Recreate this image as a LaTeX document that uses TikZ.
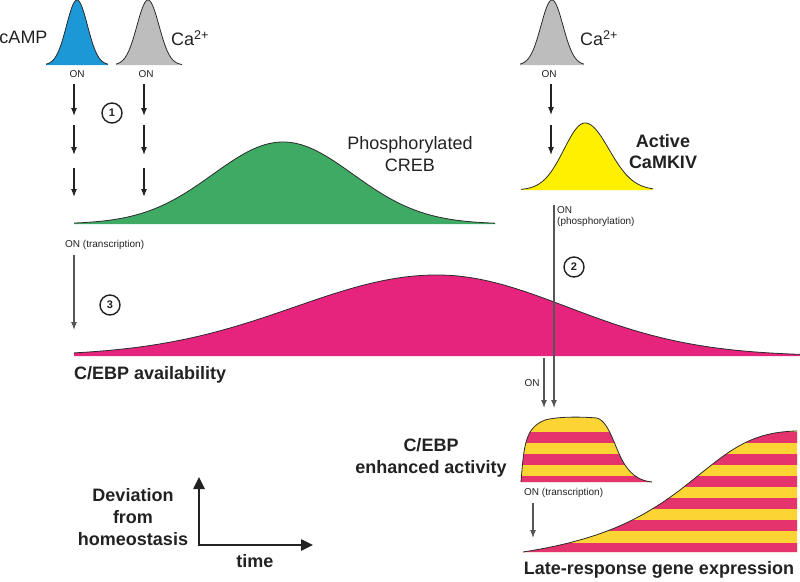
\documentclass[tikz,border=0pt]{standalone}
\usepackage{fontspec}
\setmainfont{Liberation Sans}
\usetikzlibrary{arrows.meta}
\definecolor{cblue}{HTML}{1B98D5}
\definecolor{cgray}{HTML}{BDBDBD}
\definecolor{cgreen}{HTML}{3FAA63}
\definecolor{cmag}{HTML}{E6247E}
\definecolor{cyel}{HTML}{FFF000}
\definecolor{syel}{HTML}{FCD535}
\definecolor{smag}{HTML}{E5336E}
\definecolor{outl}{HTML}{2B2B2B}
\definecolor{txt}{HTML}{222222}
\definecolor{lgray}{HTML}{555555}
\begin{document}
\begin{tikzpicture}[x=1pt,y=-1pt,
  curve/.style={draw=outl, line width=0.8pt},
  big/.style={text=txt, inner sep=0pt, font=\fontsize{18}{22}\selectfont},
  bigb/.style={text=txt, inner sep=0pt, font=\fontsize{18}{22}\selectfont\bfseries},
  small/.style={text=txt, inner sep=0pt, font=\fontsize{10}{12}\selectfont},
  arr/.style={-{Latex[length=8pt,width=6pt]}, line width=1.1pt, txt},
  garr/.style={-{Latex[length=8pt,width=6pt]}, line width=1.1pt, lgray},
  num/.style={circle, draw=txt, text=txt, line width=1.4pt, minimum size=20pt, inner sep=0pt, font=\fontsize{11}{13}\selectfont\bfseries},
  axis/.style={line width=2.5pt, txt, {Triangle[length=12pt,width=11pt]}-{Triangle[length=12pt,width=11pt]}}
]
\useasboundingbox (0,0) rectangle (800,581);

% ---- top peaks ----
\fill[cblue] (46,65) -- plot[domain=46:108,samples=80] (\x,{65-65*exp(-((\x-77)/10.5)*((\x-77)/10.5)/2)}) -- (108,65) -- cycle;
\draw[curve] plot[domain=46:108,samples=80] (\x,{65-65*exp(-((\x-77)/10.5)*((\x-77)/10.5)/2)});
\fill[cgray] (116,65) -- plot[domain=116:182,samples=80] (\x,{65-65*exp(-((\x-148)/11)*((\x-148)/11)/2)}) -- (182,65) -- cycle;
\draw[curve] plot[domain=116:182,samples=80] (\x,{65-65*exp(-((\x-148)/11)*((\x-148)/11)/2)});
\fill[cgray] (520,65) -- plot[domain=520:584,samples=80] (\x,{65-65*exp(-((\x-552)/11)*((\x-552)/11)/2)}) -- (584,65) -- cycle;
\draw[curve] plot[domain=520:584,samples=80] (\x,{65-65*exp(-((\x-552)/11)*((\x-552)/11)/2)});

% ---- CaMKIV ----
\fill[cyel] (521,190) -- plot[domain=521:585,samples=60] (\x,{190-67*exp(-((\x-585)/21)*((\x-585)/21)/2)})
  -- plot[domain=585:653,samples=60] (\x,{190-67*exp(-((\x-585)/24)*((\x-585)/24)/2)}) -- (653,190) -- cycle;
\draw[curve] plot[domain=521:585,samples=60] (\x,{190-67*exp(-((\x-585)/21)*((\x-585)/21)/2)})
  -- plot[domain=585:653,samples=60] (\x,{190-67*exp(-((\x-585)/24)*((\x-585)/24)/2)});

% ---- green CREB ----
\fill[cgreen] (74,224) -- plot[domain=74:495,samples=120] (\x,{224-82*exp(-((\x-283)/70)*((\x-283)/70)/2)}) -- (495,224) -- cycle;
\draw[curve] plot[domain=74:495,samples=120] (\x,{224-82*exp(-((\x-283)/70)*((\x-283)/70)/2)});

% ---- magenta C/EBP ----
\fill[cmag] (74,356) -- plot[domain=74:437,samples=100] (\x,{356-81*exp(-((\x-437)/142)*((\x-437)/142)/2)})
  -- plot[domain=437:800,samples=100] (\x,{356-81*exp(-((\x-437)/130)*((\x-437)/130)/2)}) -- (800,356) -- cycle;
\draw[curve] plot[domain=74:437,samples=100] (\x,{356-81*exp(-((\x-437)/142)*((\x-437)/142)/2)})
  -- plot[domain=437:800,samples=100] (\x,{356-81*exp(-((\x-437)/130)*((\x-437)/130)/2)});

% ---- small striped shape ----
\begin{scope}
\clip (521,482) .. controls (524,445) and (525,428) .. (545,420) .. controls (560,416) and (585,417) .. (597,418)
  .. controls (610,422) and (615,450) .. (625,465) .. controls (633,477) and (642,481) .. (652,482) -- cycle;
\fill[syel] (515,405) rectangle (660,490);
\foreach \k in {0,1,2} \fill[smag] (515,{431.5+22.2*\k}) rectangle (660,{442.6+22.2*\k});
\end{scope}
\draw[curve] (521,482) .. controls (524,445) and (525,428) .. (545,420) .. controls (560,416) and (585,417) .. (597,418)
  .. controls (610,422) and (615,450) .. (625,465) .. controls (633,477) and (642,481) .. (652,482);

% ---- big striped shape ----
\begin{scope}
\clip (523,552) .. controls (600,540) and (640,520) .. (680,490) .. controls (725,455) and (745,432) .. (797,431) -- (797,552) -- cycle;
\fill[syel] (515,425) rectangle (800,560);
\foreach \k in {0,...,5} \fill[smag] (515,{431.5+22.2*\k}) rectangle (800,{442.6+22.2*\k});
\end{scope}
\draw[curve] (523,552) .. controls (600,540) and (640,520) .. (680,490) .. controls (725,455) and (745,432) .. (797,431);

% ---- text ----
\node[big] (camp) at (23.5,37) {cAMP};
\node[big, anchor=west] (ca1) at (171,38) {Ca\textsuperscript{2+}};
\node[big, anchor=west] (ca2) at (580,38) {Ca\textsuperscript{2+}};
\node[small] (on1) at (77,74) {ON};
\node[small] (on2) at (146,74) {ON};
\node[small] (on3) at (549,74) {ON};
\node[big, align=center] (creb) at (410,154) {Phosphorylated\\CREB};
\node[bigb, align=center, font=\fontsize{18}{21}\selectfont\bfseries] (camk) at (663,152) {Active\\CaMKIV};
\node[small, anchor=west] (onp1) at (557,210) {ON};
\node[small, anchor=west] (onp2) at (557,222) {(phosphorylation)};
\node[small, anchor=west] (ont1) at (65,245) {ON (transcription)};
\node[bigb, anchor=west] (avail) at (74,375) {C/EBP availability};
\node[small] (on4) at (532,383) {ON};
\node[bigb, align=center] (enh) at (431,458) {C/EBP\\enhanced activity};
\node[small, anchor=west] (ont2) at (524,493) {ON (transcription)};
\node[bigb] (late) at (659,570) {Late-response gene expression};
\node[bigb, align=center] (dev) at (133,517) {Deviation\\from\\homeostasis};
\node[bigb] (time) at (255,561) {time};

\node[num] (n1) at (112,113) {1};
\node[num] (n2) at (574,267) {2};
\node[num] (n3) at (110,305) {3};

% ---- arrows ----
\foreach \xx/\nm in {74/a,144/b}{
  \coordinate (\nm1s) at (\xx,84);  \coordinate (\nm1e) at (\xx,116);
  \coordinate (\nm2s) at (\xx,125); \coordinate (\nm2e) at (\xx,155);
  \coordinate (\nm3s) at (\xx,168); \coordinate (\nm3e) at (\xx,197);
  \draw[arr] (\nm1s) -- (\nm1e);
  \draw[arr] (\nm2s) -- (\nm2e);
  \draw[arr] (\nm3s) -- (\nm3e);
}
\coordinate (c1s) at (551,84);  \coordinate (c1e) at (551,115);
\coordinate (c2s) at (551,125); \coordinate (c2e) at (551,155);
\draw[arr] (c1s) -- (c1e);
\draw[arr] (c2s) -- (c2e);
\coordinate (t3s) at (74,255); \coordinate (t3e) at (74,330);
\draw[garr] (t3s) -- (t3e);
\coordinate (ps) at (554,205); \coordinate (pe) at (554,408);
\draw[garr] (ps) -- (pe);
\coordinate (qs) at (544,358); \coordinate (qe) at (544,408);
\draw[garr] (qs) -- (qe);
\coordinate (rs) at (533,503); \coordinate (re) at (533,538);
\draw[garr] (rs) -- (re);

% ---- axes ----
\coordinate (ytop) at (199,477);
\coordinate (orig) at (199,545);
\coordinate (xend) at (313,545);
\draw[axis] (ytop) -- (orig) -- (xend);
\end{tikzpicture}
\end{document}
